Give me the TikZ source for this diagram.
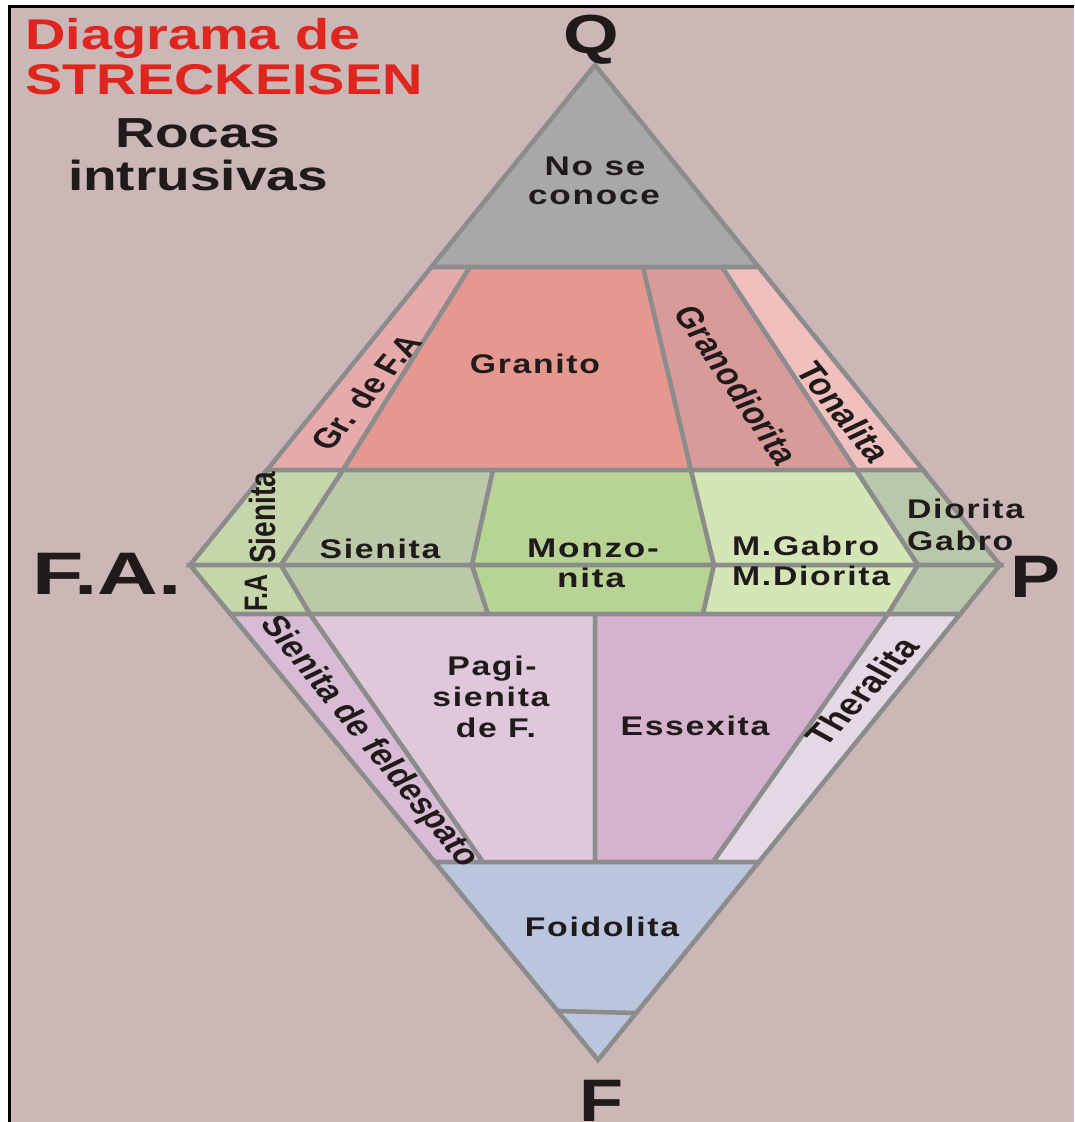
\documentclass[tikz,border=0pt]{standalone}
\usepackage{fontspec}
\usepackage{graphicx}
\setmainfont{Liberation Sans}
\newfontfamily\lblfont[LetterSpace=5]{Liberation Sans}
\definecolor{bg}{RGB}{203,183,182}
\definecolor{lineg}{RGB}{140,140,140}
\definecolor{noq}{RGB}{168,168,168}
\definecolor{grfa}{RGB}{230,170,170}
\definecolor{granito}{RGB}{229,152,144}
\definecolor{granod}{RGB}{217,155,153}
\definecolor{tonal}{RGB}{240,192,190}
\definecolor{fasien}{RGB}{197,214,170}
\definecolor{sien}{RGB}{187,201,169}
\definecolor{monzo}{RGB}{184,212,149}
\definecolor{mgab}{RGB}{212,230,181}
\definecolor{dior}{RGB}{186,200,170}
\definecolor{sfeld}{RGB}{216,188,214}
\definecolor{pagi}{RGB}{224,200,220}
\definecolor{essex}{RGB}{213,178,206}
\definecolor{theral}{RGB}{228,216,228}
\definecolor{foid}{RGB}{186,198,222}
\definecolor{titlered}{RGB}{222,38,30}
\definecolor{txt}{RGB}{32,26,26}
\newcommand\xs[2]{\scalebox{#1}[1]{#2}}
\begin{document}
\begin{tikzpicture}[x=1pt,y=-1pt,
  region/.style={draw=lineg,line width=4.5pt,line join=miter},
  lbl/.style={font=\lblfont\bfseries\fontsize{27}{30}\selectfont,text=txt,inner sep=0pt,anchor=base},
  rlbl/.style={font=\bfseries\fontsize{#1}{#1}\selectfont,text=txt,inner sep=0pt,anchor=center,transform shape},
  big/.style={font=\bfseries\fontsize{#1}{#1}\selectfont,text=txt,inner sep=0pt,anchor=base},
  ttl/.style={font=\bfseries\fontsize{43}{46}\selectfont,inner sep=0pt,anchor=base west}]
\useasboundingbox (0,0) rectangle (1074,1122);
\fill[white] (0,0) rectangle (1074,1122);
\fill[bg] (9,6) rectangle (1074,1122);
\draw[black,line width=3pt] (9,1122) -- (9,6) -- (1074,6);

% upper triangle
\filldraw[region,fill=noq] (595,65) -- (758.6,267) -- (431.4,267) -- cycle;
\filldraw[region,fill=grfa] (431.4,267) -- (470,267) -- (343,470) -- (267,470) -- cycle;
\filldraw[region,fill=granito] (470,267) -- (643,267) -- (691,470) -- (343,470) -- cycle;
\filldraw[region,fill=granod] (643,267) -- (722,267) -- (856,470) -- (691,470) -- cycle;
\filldraw[region,fill=tonal] (722,267) -- (758.6,267) -- (923,470) -- (856,470) -- cycle;
\filldraw[region,fill=fasien] (267,470) -- (343,470) -- (281,565) -- (190,565) -- cycle;
\filldraw[region,fill=sien] (343,470) -- (493,470) -- (472,565) -- (281,565) -- cycle;
\filldraw[region,fill=monzo] (493,470) -- (691,470) -- (714,565) -- (472,565) -- cycle;
\filldraw[region,fill=mgab] (691,470) -- (856,470) -- (918,565) -- (714,565) -- cycle;
\filldraw[region,fill=dior] (856,470) -- (923,470) -- (1000,565) -- (918,565) -- cycle;
% lower triangle
\filldraw[region,fill=fasien] (190,565) -- (281,565) -- (310,614) -- (230.4,614) -- cycle;
\filldraw[region,fill=sien] (281,565) -- (472,565) -- (488,614) -- (310,614) -- cycle;
\filldraw[region,fill=monzo] (472,565) -- (714,565) -- (703,614) -- (488,614) -- cycle;
\filldraw[region,fill=mgab] (714,565) -- (918,565) -- (888,614) -- (703,614) -- cycle;
\filldraw[region,fill=dior] (918,565) -- (1000,565) -- (960.2,614) -- (888,614) -- cycle;
\filldraw[region,fill=sfeld] (230.4,614) -- (310,614) -- (483,862) -- (434.8,862) -- cycle;
\filldraw[region,fill=pagi] (310,614) -- (595,614) -- (595,862) -- (483,862) -- cycle;
\filldraw[region,fill=essex] (595,614) -- (888,614) -- (713,862) -- (595,862) -- cycle;
\filldraw[region,fill=theral] (888,614) -- (960.2,614) -- (758.8,862) -- (713,862) -- cycle;
\filldraw[region,fill=foid] (434.8,862) -- (758.8,862) -- (598,1060) -- cycle;
\draw[region] (557.6,1011) -- (636.2,1013);

% titles
\node[ttl,text=titlered] (t1) at (25,49) {\xs{1.3}{Diagrama de}};
\node[ttl,text=titlered] (t2) at (25,94) {\xs{1.3}{STRECKEISEN}};
\node[big=42,text=txt] (t3) at (198,147) {\xs{1.31}{Rocas}};
\node[big=42,text=txt] (t4) at (198,190) {\xs{1.31}{intrusivas}};

% vertex letters
\node[big=55] (lq) at (591,53) {\xs{1.3}{Q}};
\node[big=60] (lfa) at (107,594) {\xs{1.4}{F.A.}};
\node[big=60] (lp) at (1036,597) {\xs{1.25}{P}};
\node[big=60] (lf) at (601,1121) {\xs{1.2}{F}};

% field labels
\node[lbl] (n1) at (595,175) {\xs{1.3}{No se}};
\node[lbl] (n2) at (594,204) {\xs{1.3}{conoce}};
\node[lbl] (n3) at (535,373) {\xs{1.25}{Granito}};
\node[lbl] (n4) at (380,558) {\xs{1.25}{Sienita}};
\node[lbl] (n5) at (593,557) {\xs{1.3}{Monzo-}};
\node[lbl] (n6) at (591,587) {\xs{1.3}{nita}};
\node[lbl,anchor=base west] (n7) at (732,555) {\xs{1.25}{M.Gabro}};
\node[lbl,anchor=base west] (n8) at (732,585) {\xs{1.25}{M.Diorita}};
\node[lbl,anchor=base west] (n9) at (907,518) {\xs{1.25}{Diorita}};
\node[lbl,anchor=base west] (n10) at (907,550) {\xs{1.25}{Gabro}};
\node[lbl] (n11) at (492,675) {\xs{1.25}{Pagi-}};
\node[lbl] (n12) at (491,706) {\xs{1.25}{sienita}};
\node[lbl] (n13) at (496,737) {\xs{1.25}{de F.}};
\node[lbl] (n14) at (695,735) {\xs{1.25}{Essexita}};
\node[lbl] (n15) at (602,936) {\xs{1.25}{Foidolita}};

% rotated labels (set in a horizontally stretched frame)
\begin{scope}[xscale=1.3]
\node[rlbl=28,rotate=57.2] (r1) at (366/1.3,392) {Gr. de F.A};
\node[rlbl=29,rotate=-62.6] (r2) at (737/1.3,385) {Granodiorita};
\node[rlbl=29.5,rotate=-58.1] (r3) at (844/1.3,412) {Tonalita};
\node[rlbl=28,rotate=90] (r4) at (262/1.3,518) {Sienita};
\node[rlbl=25,rotate=90] (r5) at (256/1.3,593) {F.A};
\node[rlbl=29,rotate=-57.6] (r6) at (369/1.3,742) {Sienita de feldespato};
\node[rlbl=30,rotate=54.3] (r7) at (862/1.3,691) {Theralita};
\end{scope}
\end{tikzpicture}
\end{document}
